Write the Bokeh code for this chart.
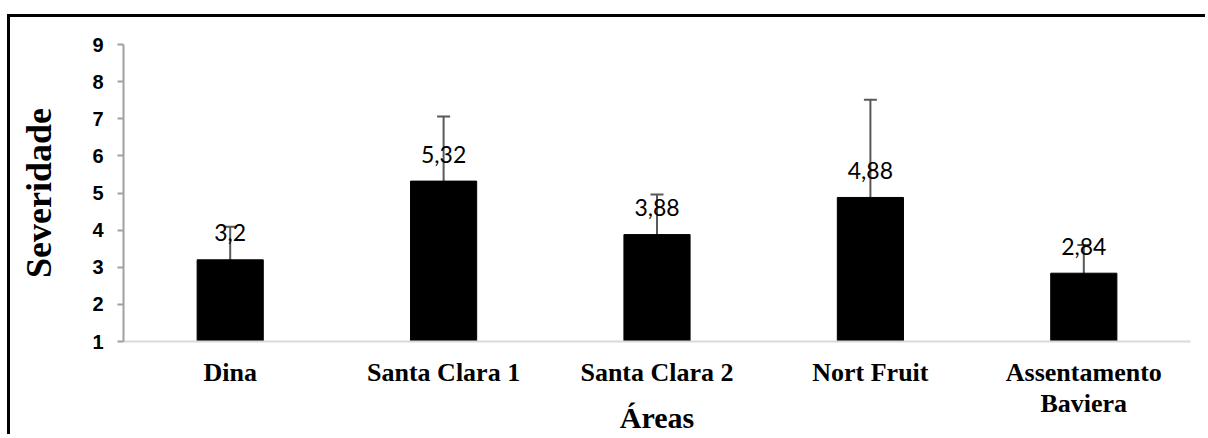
from bokeh.plotting import figure
from bokeh.models import (ColumnDataSource, FactorRange, Range1d, Whisker, TeeHead,
                          FixedTicker)
from bokeh.core.properties import value
from bokeh.embed import file_html
from bokeh.resources import INLINE

categories = ["Dina", "Santa Clara 1", "Santa Clara 2", "Nort Fruit", "Assentamento\nBaviera"]
severity = [3.2, 5.32, 3.88, 4.88, 2.84]
errors = [0.89, 1.74, 1.08, 2.63, 0.76]
labels = ["3,2", "5,32", "3,88", "4,88", "2,84"]
y_ticks = [1, 2, 3, 4, 5, 6, 7, 8, 9]
Y_MIN, Y_MAX = 1, 9

src = ColumnDataSource(dict(
    cat=categories,
    top=severity,
    upper=[v + e for v, e in zip(severity, errors)],
    lower=[v - e for v, e in zip(severity, errors)],
    lab=labels,
))

p = figure(width=1198, height=420, output_backend="svg", toolbar_location=None,
           x_range=FactorRange(*categories, range_padding=0),
           y_range=Range1d(Y_MIN, Y_MAX),
           min_border_left=113, min_border_right=18, min_border_top=27, min_border_bottom=96)
p.margin = (14, 0, 0, 7)
p.styles = {"border-top": "3px solid black", "border-left": "3px solid black"}
p.outline_line_color = None
p.xgrid.visible = False
p.ygrid.visible = False
p.background_fill_color = "white"
p.border_fill_color = "white"

p.vbar(x="cat", top="top", bottom=Y_MIN, width=0.31, source=src,
       fill_color="black", line_color="black")

wh = Whisker(base="cat", upper="upper", lower="lower", source=src,
             line_color="#595959", line_width=2,
             upper_head=TeeHead(size=13, line_color="#595959", line_width=2),
             lower_head=TeeHead(size=13, line_color="#595959", line_width=2))
p.add_layout(wh)

p.text(x="cat", y="top", text="lab", source=src, text_align="center",
       text_baseline="alphabetic", y_offset=-27, text_font=value("Lato"),
       text_font_size="23px", text_color="black")

# axes
p.yaxis.ticker = FixedTicker(ticks=y_ticks)
p.yaxis.axis_line_color = "#a0a0a0"
p.yaxis.axis_line_width = 2
p.yaxis.major_tick_line_color = "#a0a0a0"
p.yaxis.major_tick_line_width = 2
p.yaxis.major_tick_out = 6
p.yaxis.major_tick_in = 0
p.yaxis.minor_tick_line_color = None
p.yaxis.major_label_text_font = "Liberation Sans"
p.yaxis.major_label_text_font_style = "bold"
p.yaxis.major_label_text_font_size = "20px"
p.yaxis.major_label_text_color = "black"
p.yaxis.major_label_standoff = 14
p.yaxis.axis_label = "Severidade"
p.yaxis.axis_label_text_font = "Liberation Serif"
p.yaxis.axis_label_text_font_style = "bold"
p.yaxis.axis_label_text_font_size = "36px"
p.yaxis.axis_label_text_color = "black"
p.yaxis.axis_label_standoff = 30

p.xaxis.axis_line_color = "#d9d9d9"
p.xaxis.axis_line_width = 2
p.xaxis.major_tick_line_color = None
p.xaxis.minor_tick_line_color = None
p.xaxis.major_label_text_font = "Liberation Serif"
p.xaxis.major_label_text_font_style = "bold"
p.xaxis.major_label_text_font_size = "26px"
p.xaxis.major_label_text_line_height = 1.1
p.xaxis.major_label_text_color = "black"
p.xaxis.major_label_standoff = 10
p.xaxis.axis_label = "Áreas"
p.xaxis.axis_label_text_font = "Liberation Serif"
p.xaxis.axis_label_text_font_style = "bold"
p.xaxis.axis_label_text_font_size = "30px"
p.xaxis.axis_label_text_color = "black"
p.xaxis.axis_label_standoff = -20

open("out.html", "w").write(file_html(p, INLINE))
